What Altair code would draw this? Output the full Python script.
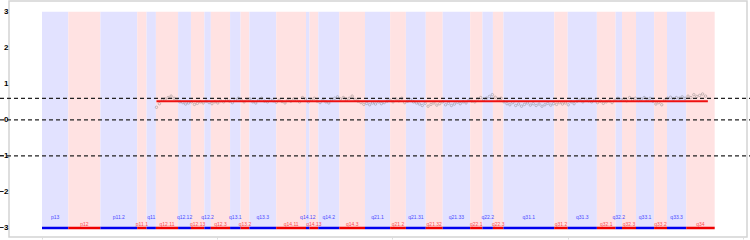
import altair as alt
import pandas as pd

# Chromosome 13 cytobands (Mb)
band_names = ["p13","p12","p11.2","p11.1","q11","q12.11","q12.12","q12.13","q12.2","q12.3",
              "q13.1","q13.2","q13.3","q14.11","q14.12","q14.13","q14.2","q14.3","q21.1","q21.2",
              "q21.31","q21.32","q21.33","q22.1","q22.2","q22.3","q31.1","q31.2","q31.3","q32.1",
              "q32.2","q32.3","q33.1","q33.2","q33.3","q34"]
band_starts = [0,4.5,10.0,16.3,17.9,19.5,23.3,25.5,27.8,28.9,32.2,34.0,35.5,40.1,45.2,45.8,47.3,
               50.9,55.3,59.6,62.3,65.7,68.6,73.3,75.4,77.2,79.0,87.7,90.0,95.0,98.2,99.3,101.7,
               104.8,107.0,110.3]
band_ends = band_starts[1:] + [115.17]

# probe positions (Mb) and log2 ratios
positions = [19.6,20.1,20.6,21.1,21.6,22.1,22.6,23.1,23.6,24.1,
             24.6,25.1,25.6,26.1,26.6,27.1,27.6,28.1,28.6,29.1,
             29.6,30.1,30.6,31.1,31.6,32.1,32.6,33.1,33.6,34.1,
             34.6,35.1,35.6,36.1,36.6,37.1,37.6,38.1,38.6,39.1,
             39.6,40.1,40.6,41.1,41.6,42.1,42.6,43.1,43.6,44.1,
             44.6,45.1,45.6,46.1,46.6,47.1,47.6,48.1,48.6,49.1,
             49.6,50.1,50.6,51.1,51.6,52.1,52.6,53.1,53.6,54.1,
             54.6,55.1,55.6,56.1,56.6,57.1,57.6,58.1,58.6,59.1,
             59.6,60.1,60.6,61.1,61.6,62.1,62.6,63.1,63.6,64.1,
             64.6,65.1,65.6,66.1,66.6,67.1,67.6,68.1,68.6,69.1,
             69.6,70.1,70.6,71.1,71.6,72.1,72.6,73.1,73.6,74.1,
             74.6,75.1,75.6,76.1,76.6,77.1,77.6,78.1,78.6,79.1,
             79.6,80.1,80.6,81.1,81.6,82.1,82.6,83.1,83.6,84.1,
             84.6,85.1,85.6,86.1,86.6,87.1,87.6,88.1,88.6,89.1,
             89.6,90.1,90.6,91.1,91.6,92.1,92.6,93.1,93.6,94.1,
             94.6,95.1,95.6,96.1,96.6,97.1,97.6,98.1,98.6,99.1,
             99.6,100.1,100.6,101.1,101.6,102.1,102.6,103.1,103.6,104.1,
             104.6,105.1,105.6,106.1,106.6,107.1,107.6,108.1,108.6,109.1,
             109.6,110.1,110.6,111.1,111.6,112.1,112.6,113.1,113.6]
log2ratio = [0.35,0.45,0.55,0.58,0.62,0.66,0.60,0.55,0.50,0.48,
             0.44,0.47,0.50,0.43,0.46,0.50,0.47,0.52,0.48,0.45,
             0.50,0.47,0.53,0.50,0.55,0.52,0.48,0.56,0.60,0.55,
             0.50,0.54,0.58,0.50,0.47,0.55,0.60,0.52,0.50,0.56,
             0.53,0.49,0.55,0.51,0.47,0.55,0.52,0.58,0.54,0.50,
             0.62,0.58,0.50,0.55,0.60,0.52,0.48,0.55,0.50,0.47,
             0.55,0.60,0.64,0.58,0.62,0.55,0.60,0.66,0.57,0.52,
             0.48,0.43,0.46,0.42,0.47,0.44,0.50,0.45,0.48,0.52,
             0.55,0.50,0.58,0.53,0.60,0.48,0.52,0.56,0.50,0.47,
             0.44,0.40,0.46,0.38,0.43,0.47,0.41,0.45,0.50,0.42,
             0.46,0.40,0.44,0.49,0.45,0.50,0.47,0.55,0.52,0.50,
             0.58,0.62,0.56,0.60,0.65,0.70,0.63,0.55,0.60,0.50,
             0.45,0.42,0.48,0.40,0.44,0.38,0.43,0.47,0.41,0.45,
             0.40,0.44,0.38,0.42,0.46,0.41,0.45,0.43,0.48,0.44,
             0.47,0.42,0.50,0.45,0.52,0.55,0.50,0.57,0.53,0.50,
             0.55,0.48,0.52,0.46,0.50,0.53,0.48,0.55,0.60,0.56,
             0.58,0.53,0.62,0.56,0.60,0.54,0.58,0.62,0.55,0.60,
             0.52,0.44,0.48,0.42,0.55,0.60,0.63,0.58,0.62,0.60,
             0.64,0.60,0.66,0.62,0.70,0.65,0.68,0.72,0.66]

segment_start = [19.6]
segment_end = [114.0]
segment_mean = [0.52]

thresholds = [0.6, 0.0, -1.0]
y_ticks = [-3, -2, -1, 0, 1, 2, 3]

band_kind = ["a" if i % 2 == 0 else "b" for i in range(len(band_names))]
bands = pd.DataFrame({
    "name": band_names, "start": band_starts, "end": band_ends, "kind": band_kind,
    "mid": [(s + e) / 2 for s, e in zip(band_starts, band_ends)],
    "ly": [-2.69 if k == "a" else -2.89 for k in band_kind],
    "top": [3] * len(band_names), "bot": [-3] * len(band_names),
    "fill": ["#e2e2ff" if k == "a" else "#ffe2e2" for k in band_kind],
    "line": ["#0000ee" if k == "a" else "#ee0000" for k in band_kind],
    "tcol": ["#4a4aff" if k == "a" else "#ff4a4a" for k in band_kind],
})
pts = pd.DataFrame({"pos": positions, "val": log2ratio})
seg = pd.DataFrame({"s": segment_start, "e": segment_end, "m": segment_mean})
thr = pd.DataFrame({"t": thresholds})

xs = alt.Scale(domain=[-5.65, 120.7], nice=False, zero=False)
ys = alt.Scale(domain=[-3.25, 3.3], nice=False, zero=False)

xaxis = alt.Axis(values=[0, 30, 60, 90, 120], labels=False, title=None, tickSize=2,
                 tickColor="#dddddd", domain=False, grid=False)
yaxis = alt.Axis(values=y_ticks, title=None, ticks=False, domain=False, grid=False,
                 labelFontSize=8, labelFontWeight="bold", labelColor="#000000",
                 labelPadding=1, labelFont="Liberation Sans", labelOverlap=False,
                 labelBound=False, labelFlush=False)

rects = alt.Chart(bands).mark_rect(opacity=1).encode(
    x=alt.X("start:Q", scale=xs, axis=xaxis), x2="end:Q",
    y=alt.Y("top:Q", scale=ys, axis=yaxis), y2="bot:Q",
    color=alt.Color("fill:N", scale=None),
)
baseline = alt.Chart(bands).mark_rule(strokeWidth=2.5).encode(
    x=alt.X("start:Q", scale=xs, axis=xaxis), x2="end:Q",
    y=alt.Y("bot:Q", scale=ys, axis=yaxis),
    color=alt.Color("line:N", scale=None),
)
labels = alt.Chart(bands).mark_text(fontSize=5, font="Liberation Sans", baseline="middle").encode(
    x=alt.X("mid:Q", scale=xs, axis=xaxis), y=alt.Y("ly:Q", scale=ys, axis=yaxis), text="name:N",
    color=alt.Color("tcol:N", scale=None),
)
thr_lines = alt.Chart(thr).mark_rule(strokeDash=[4, 3], strokeWidth=1.3, color="#222222", clip=False).encode(
    x=alt.value(-9), x2=alt.value(741), y=alt.Y("t:Q", scale=ys, axis=yaxis),
)
points = alt.Chart(pts).mark_point(size=6, filled=False, color="#666666", strokeWidth=0.5).encode(
    x=alt.X("pos:Q", scale=xs, axis=xaxis), y=alt.Y("val:Q", scale=ys, axis=yaxis),
)
seg_line = alt.Chart(seg).mark_rule(strokeWidth=2, color="#ee1111").encode(
    x=alt.X("s:Q", scale=xs, axis=xaxis), x2="e:Q", y=alt.Y("m:Q", scale=ys, axis=yaxis),
)

chart = alt.layer(rects, baseline, labels, points, thr_lines, seg_line).properties(
    width=738, height=236,
    autosize=alt.AutoSizeParams(type="none"),
    padding={"left": 9, "top": 1, "right": 3, "bottom": 3},
    background="white",
).configure_view(stroke="#d4d4d4", strokeWidth=1.5).configure_axisY(labelOverlap=False)

chart.save("out.html", embed_options={"renderer": "svg", "actions": False})
